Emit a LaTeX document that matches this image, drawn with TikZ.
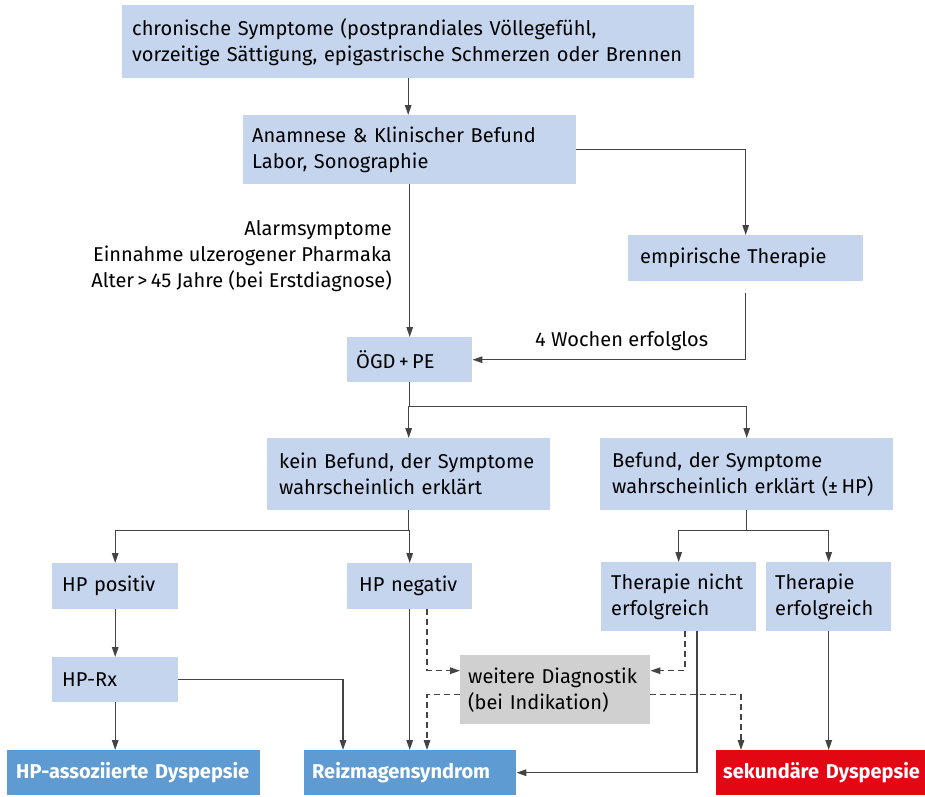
\documentclass[tikz,border=0pt]{standalone}
\usepackage{fontspec}
\setmainfont{Fira Sans}
\usetikzlibrary{arrows.meta}
\definecolor{lb}{HTML}{C5D5EE}
\definecolor{db}{HTML}{5E9BD3}
\definecolor{rd}{HTML}{E30613}
\definecolor{gr}{HTML}{D0D0D0}
\definecolor{ln}{HTML}{444444}
\tikzset{
  box/.style={fill=lb, anchor=north west, inner xsep=10pt, inner ysep=0pt, align=left,
    font=\fontsize{20}{26}\selectfont, text=black},
  gbox/.style={box, fill=gr},
  fbox/.style={box, text=white, font=\fontsize{20}{26}\selectfont\bfseries, inner xsep=9pt},
  lbl/.style={font=\fontsize{20}{26}\selectfont, inner sep=0pt},
  arr/.style={draw=ln, line width=1.4pt, -{Triangle[length=10pt,width=6.5pt]}},
  con/.style={draw=ln, line width=1.4pt},
  darr/.style={arr, dash pattern=on 6pt off 4pt},
}
\begin{document}
\begin{tikzpicture}[x=1pt,y=-1pt]
\useasboundingbox (0,0) rectangle (925,796);
% boxes
\node[box, minimum width=572pt, minimum height=73pt, text width=552pt] (top) at (122,5)
  {chronische Symptome (postprandiales Völlegefühl,\\vorzeitige Sättigung, epigastrische Schmerzen oder Brennen};
\node[box, minimum width=333pt, minimum height=69pt, text width=315pt, inner xsep=9pt] (anam) at (243,115)
  {Anamnese \& Klinischer Befund\\Labor, Sonographie};
\node[box, minimum width=235pt, minimum height=46pt, text width=211pt, inner xsep=12pt] (emp) at (628,235)
  {empirische Therapie};
\node[box, minimum width=125pt, minimum height=45pt, text width=107pt, inner xsep=9pt] (ogd) at (347,337)
  {ÖGD\,+\,PE};
\node[box, minimum width=283pt, minimum height=72pt, text width=259pt, inner xsep=12pt] (kein) at (267,438)
  {kein Befund, der Symptome\\wahrscheinlich erklärt};
\node[box, minimum width=293pt, minimum height=72pt, text width=269pt, inner xsep=12pt] (bef) at (600,438)
  {Befund, der Symptome\\wahrscheinlich erklärt (±\,HP)};
\node[box, minimum width=126pt, minimum height=46pt, text width=106pt] (hppos) at (52,563)
  {HP positiv};
\node[box, minimum width=125pt, minimum height=46pt, text width=101pt, inner xsep=12pt] (hpneg) at (347,563)
  {HP negativ};
\node[box, minimum width=155pt, minimum height=69pt, text width=135pt] (tnicht) at (601,562)
  {Therapie nicht\\erfolgreich};
\node[box, minimum width=125pt, minimum height=69pt, text width=107pt, inner xsep=9pt] (terf) at (766,562)
  {Therapie\\erfolgreich};
\node[box, minimum width=126pt, minimum height=45pt, text width=106pt] (hprx) at (52,657)
  {HP-Rx};
\node[gbox, minimum width=190pt, minimum height=69pt, text width=174pt, inner xsep=8pt] (weit) at (460,655)
  {weitere Diagnostik\\(bei Indikation)};
\node[fbox, fill=db, minimum width=253pt, minimum height=45pt, text width=235pt] (hpass) at (7,750)
  {\mbox{HP-assoziierte Dyspepsie}};
\node[fbox, fill=db, minimum width=212pt, minimum height=45pt, text width=196pt, inner xsep=8pt] (reiz) at (304,750)
  {\mbox{Reizmagensyndrom}};
\node[fbox, fill=rd, minimum width=209pt, minimum height=45pt, text width=195pt, inner xsep=7pt] (sek) at (716,750)
  {\mbox{sekundäre Dyspepsie}};
% labels
\node[lbl, anchor=north east, align=right] (alarm) at (392,220)
  {Alarmsymptome\\Einnahme ulzerogener Pharmaka\\Alter\,>\,45 Jahre (bei Erstdiagnose)};
\node[lbl, anchor=west] (woch) at (535,341) {4 Wochen erfolglos};
% connectors
\draw[arr] (top.south) -- (top.south |- anam.north);
\draw[arr] (anam.east) -| (emp.north);
\draw[arr] (anam.south) -- (anam.south |- ogd.north);
\coordinate (empout) at ([yshift=-12pt]emp.south);
\draw[arr] (empout) |- (ogd.east);
\coordinate (ogdsplit) at ([yshift=-24pt]ogd.south);
\draw[con] (ogd.south) -- (ogdsplit);
\draw[arr] (ogdsplit) -| (kein.north);
\draw[arr] (ogdsplit) -| (bef.north);
\coordinate (keinsplit) at ([yshift=-20pt]kein.south);
\draw[con] (kein.south) -- (keinsplit);
\draw[arr] (keinsplit) -| (hppos.north);
\draw[arr] (keinsplit) -| (hpneg.north);
\coordinate (befsplit) at ([yshift=-20pt]bef.south);
\draw[con] (bef.south) -- (befsplit);
\draw[arr] (befsplit) -| (tnicht.north);
\draw[arr] (befsplit) -| (terf.north);
\draw[arr] (hppos.south) -- (hprx.north);
\draw[arr] (hprx.south) -- (hprx.south |- hpass.north);
\draw[arr] (hprx.east) -| ([xshift=39pt]reiz.north west);
\draw[arr] (hpneg.south) -- (hpneg.south |- reiz.north);
\draw[darr] ([xshift=80pt]hpneg.south west) |- ([yshift=19pt]weit.west);
\draw[darr] ([xshift=84pt]tnicht.south west) |- ([yshift=19pt]weit.east);
\draw[arr] ([xshift=96pt]tnicht.south west) |- (reiz.east);
\draw[darr] ([yshift=-5pt]weit.west) -| ([xshift=123pt]reiz.north west);
\draw[darr] ([yshift=-5pt]weit.east) -| ([xshift=25pt]sek.north west);
\draw[arr] (terf.south) -- (terf.south |- sek.north);
\end{tikzpicture}
\end{document}
